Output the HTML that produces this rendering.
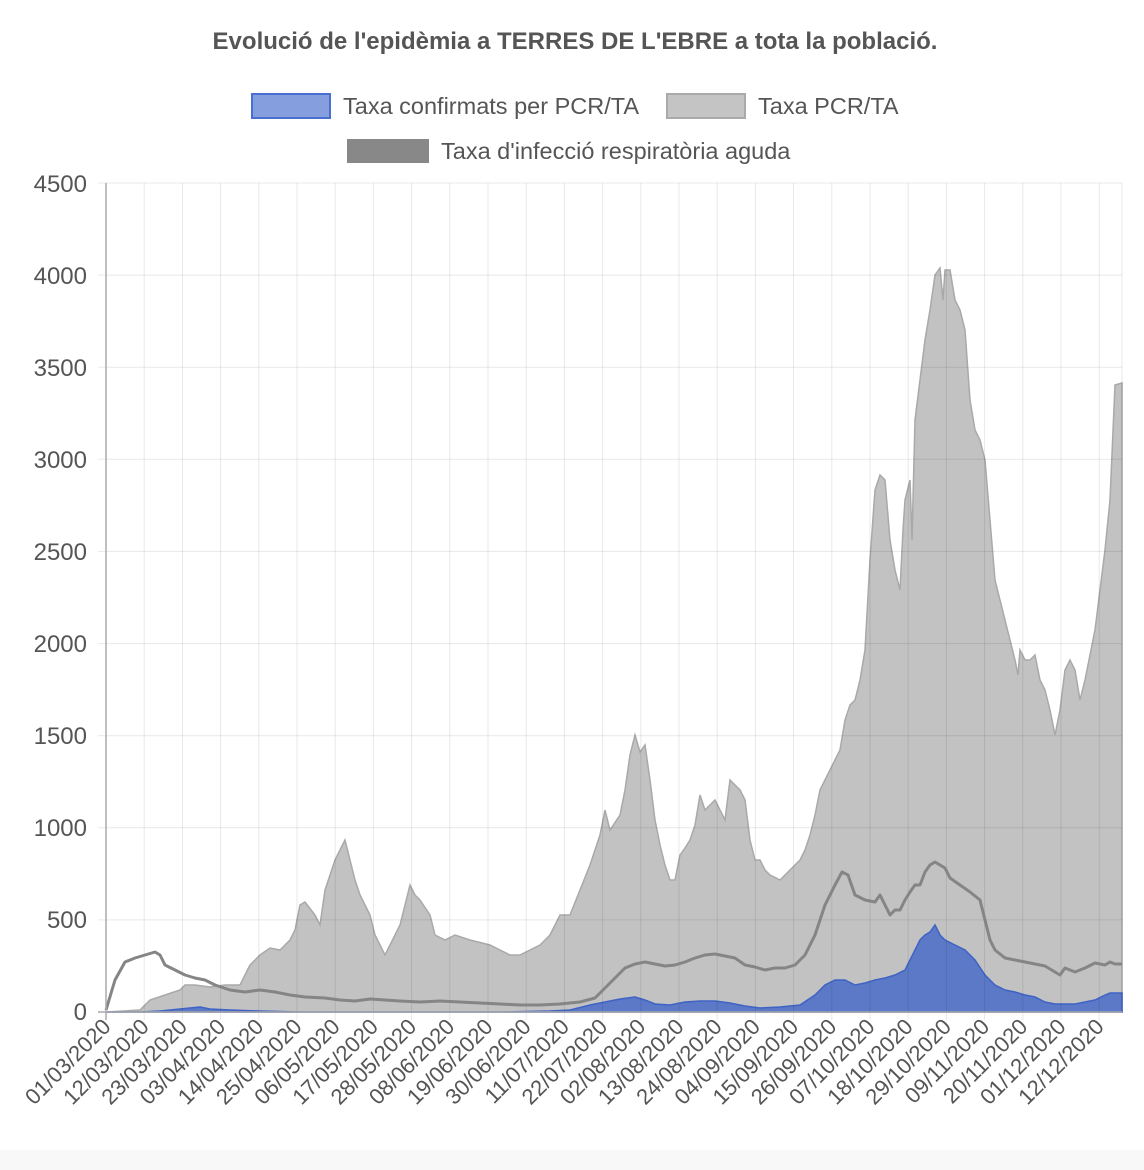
<!DOCTYPE html>
<html><head><meta charset="utf-8"><style>
html,body{margin:0;padding:0;background:#fff;}
svg{display:block;font-family:"Liberation Sans",Arial,sans-serif;}
</style></head><body>
<svg width="1144" height="1170" viewBox="0 0 1144 1170" xmlns="http://www.w3.org/2000/svg">
<rect x="0" y="1150" width="1144" height="20" fill="#f8f8f8"/>
<text x="575" y="49" text-anchor="middle" font-size="24" font-weight="bold" fill="#555">Evolució de l'epidèmia a TERRES DE L'EBRE a tota la població.</text>
<rect x="252" y="94" width="78" height="24" fill="#859fde" stroke="#4a6fd0" stroke-width="2"/>
<text x="343" y="114" font-size="23.5" fill="#555">Taxa confirmats per PCR/TA</text>
<rect x="667" y="94" width="78" height="24" fill="#c4c4c4" stroke="#aaa" stroke-width="2"/>
<text x="758" y="114" font-size="23.5" fill="#555">Taxa PCR/TA</text>
<rect x="347" y="139" width="82" height="24" fill="#888"/>
<text x="441" y="159" font-size="23.5" fill="#555">Taxa d'infecció respiratòria aguda</text>

<path fill="#c2c2c2" stroke="#a9a9a9" stroke-width="1.5" d="M106,1012 L140,1010 L150,1000 L165,995 L180,990 L185,985 L195,985 L210,987 L225,985 L240,985 L250,965 L260,955 L270,948 L280,950 L290,940 L295,930 L300,905 L305,902 L315,915 L320,925 L325,890 L335,860 L340,850 L345,840 L350,860 L355,880 L360,895 L365,905 L370,915 L375,935 L380,945 L385,955 L390,945 L395,935 L400,925 L405,905 L410,885 L415,895 L420,900 L430,915 L435,935 L445,940 L455,935 L470,940 L490,945 L500,950 L510,955 L520,955 L530,950 L540,945 L550,935 L555,925 L560,915 L570,915 L580,890 L590,865 L600,835 L605,810 L610,830 L620,815 L625,790 L630,755 L635,735 L640,752 L645,745 L650,780 L655,820 L660,845 L665,865 L670,880 L675,880 L680,855 L685,848 L690,840 L695,825 L700,795 L705,810 L710,805 L715,800 L720,810 L725,820 L730,780 L735,785 L740,790 L745,800 L750,840 L755,860 L760,860 L765,870 L770,875 L780,880 L790,870 L800,860 L805,850 L810,835 L815,815 L820,790 L825,780 L830,770 L835,760 L840,750 L845,720 L850,705 L855,700 L860,680 L865,650 L870,560 L875,490 L880,475 L885,480 L890,540 L895,570 L900,590 L903,530 L905,500 L910,480 L912,540 L915,420 L920,380 L925,340 L930,310 L935,275 L940,268 L943,300 L945,270 L950,270 L955,300 L960,310 L965,330 L970,400 L975,430 L980,440 L985,460 L990,520 L995,580 L1000,600 L1005,620 L1010,640 L1015,660 L1018,675 L1020,650 L1025,660 L1030,660 L1035,655 L1040,680 L1045,690 L1050,710 L1055,735 L1060,710 L1065,670 L1070,660 L1075,670 L1080,700 L1085,680 L1090,655 L1095,630 L1100,590 L1105,550 L1110,500 L1115,385 L1122,383 L1122,1012 Z"/>
<path fill="#5b79c6" stroke="#3f63c4" stroke-width="1.5" d="M106,1012 L140,1012 L160,1011 L180,1009 L190,1008 L200,1007 L210,1009 L230,1010 L260,1011 L300,1012 L500,1012 L550,1011 L570,1010 L590,1005 L605,1002 L620,999 L635,997 L645,1000 L655,1004 L670,1005 L685,1002 L700,1001 L715,1001 L730,1003 L745,1006 L760,1008 L780,1007 L800,1005 L815,995 L825,985 L835,980 L845,980 L855,985 L865,983 L875,980 L885,978 L895,975 L905,970 L910,960 L915,950 L920,940 L925,935 L930,932 L935,925 L940,935 L945,940 L955,945 L965,950 L975,960 L985,975 L995,985 L1005,990 L1015,992 L1025,995 L1035,997 L1045,1002 L1055,1004 L1065,1004 L1075,1004 L1085,1002 L1095,1000 L1105,995 L1110,993 L1122,993 L1122,1012 Z"/>

<g stroke="rgba(0,0,0,0.09)" stroke-width="1">
<line x1="144.2" y1="183" x2="144.2" y2="1020"/><line x1="182.4" y1="183" x2="182.4" y2="1020"/><line x1="220.6" y1="183" x2="220.6" y2="1020"/><line x1="258.8" y1="183" x2="258.8" y2="1020"/><line x1="297" y1="183" x2="297" y2="1020"/><line x1="335.2" y1="183" x2="335.2" y2="1020"/><line x1="373.4" y1="183" x2="373.4" y2="1020"/><line x1="411.6" y1="183" x2="411.6" y2="1020"/><line x1="449.8" y1="183" x2="449.8" y2="1020"/><line x1="488" y1="183" x2="488" y2="1020"/><line x1="526.2" y1="183" x2="526.2" y2="1020"/><line x1="564.4" y1="183" x2="564.4" y2="1020"/><line x1="602.6" y1="183" x2="602.6" y2="1020"/><line x1="640.8" y1="183" x2="640.8" y2="1020"/><line x1="679" y1="183" x2="679" y2="1020"/><line x1="717.2" y1="183" x2="717.2" y2="1020"/><line x1="755.4" y1="183" x2="755.4" y2="1020"/><line x1="793.6" y1="183" x2="793.6" y2="1020"/><line x1="831.8" y1="183" x2="831.8" y2="1020"/><line x1="870" y1="183" x2="870" y2="1020"/><line x1="908.2" y1="183" x2="908.2" y2="1020"/><line x1="946.4" y1="183" x2="946.4" y2="1020"/><line x1="984.6" y1="183" x2="984.6" y2="1020"/><line x1="1022.8" y1="183" x2="1022.8" y2="1020"/><line x1="1061" y1="183" x2="1061" y2="1020"/><line x1="1099.2" y1="183" x2="1099.2" y2="1020"/><line x1="1122" y1="183" x2="1122" y2="1012"/>
<line x1="98" y1="919.9" x2="1122" y2="919.9"/><line x1="98" y1="827.8" x2="1122" y2="827.8"/><line x1="98" y1="735.7" x2="1122" y2="735.7"/><line x1="98" y1="643.6" x2="1122" y2="643.6"/><line x1="98" y1="551.4" x2="1122" y2="551.4"/><line x1="98" y1="459.3" x2="1122" y2="459.3"/><line x1="98" y1="367.2" x2="1122" y2="367.2"/><line x1="98" y1="275.1" x2="1122" y2="275.1"/><line x1="98" y1="183" x2="1122" y2="183"/>
</g>

<polyline fill="none" stroke="#858585" stroke-width="3" stroke-linejoin="round" points="106,1010 115,980 125,962 135,958 145,955 155,952 160,955 165,965 175,970 185,975 195,978 205,980 215,985 230,990 245,992 260,990 275,992 290,995 305,997 325,998 340,1000 355,1001 370,999 385,1000 400,1001 420,1002 440,1001 460,1002 480,1003 500,1004 520,1005 540,1005 560,1004 580,1002 595,998 605,988 615,978 625,968 635,964 645,962 655,964 665,966 675,965 685,962 695,958 705,955 715,954 725,956 735,958 745,965 755,967 765,970 775,968 785,968 795,965 805,955 815,935 825,905 835,885 842,872 848,875 855,895 865,900 875,902 880,895 885,905 890,915 895,910 900,910 905,900 910,892 915,885 920,885 925,872 930,865 935,862 940,865 945,868 950,878 960,885 970,892 980,900 985,920 990,940 995,950 1005,958 1015,960 1025,962 1035,964 1045,966 1055,972 1060,975 1065,968 1075,972 1085,968 1095,963 1105,965 1110,962 1115,964 1122,964"/>
<line x1="106" y1="183" x2="106" y2="1020" stroke="#aaa" stroke-width="1.5"/>
<line x1="98" y1="1012" x2="1122" y2="1012" stroke="#aaa" stroke-width="1.5"/>

<g font-size="24" fill="#555" text-anchor="end">
<text x="87" y="1020">0</text><text x="87" y="928">500</text><text x="87" y="836">1000</text><text x="87" y="744">1500</text><text x="87" y="652">2000</text><text x="87" y="560">2500</text><text x="87" y="468">3000</text><text x="87" y="376">3500</text><text x="87" y="284">4000</text><text x="87" y="192">4500</text>
</g>
<g font-size="22" fill="#555" text-anchor="end">
<text transform="translate(112,1028) rotate(-45)">01/03/2020</text>
<text transform="translate(150.2,1028) rotate(-45)">12/03/2020</text>
<text transform="translate(188.4,1028) rotate(-45)">23/03/2020</text>
<text transform="translate(226.6,1028) rotate(-45)">03/04/2020</text>
<text transform="translate(264.8,1028) rotate(-45)">14/04/2020</text>
<text transform="translate(303,1028) rotate(-45)">25/04/2020</text>
<text transform="translate(341.2,1028) rotate(-45)">06/05/2020</text>
<text transform="translate(379.4,1028) rotate(-45)">17/05/2020</text>
<text transform="translate(417.6,1028) rotate(-45)">28/05/2020</text>
<text transform="translate(455.8,1028) rotate(-45)">08/06/2020</text>
<text transform="translate(494,1028) rotate(-45)">19/06/2020</text>
<text transform="translate(532.2,1028) rotate(-45)">30/06/2020</text>
<text transform="translate(570.4,1028) rotate(-45)">11/07/2020</text>
<text transform="translate(608.6,1028) rotate(-45)">22/07/2020</text>
<text transform="translate(646.8,1028) rotate(-45)">02/08/2020</text>
<text transform="translate(685,1028) rotate(-45)">13/08/2020</text>
<text transform="translate(723.2,1028) rotate(-45)">24/08/2020</text>
<text transform="translate(761.4,1028) rotate(-45)">04/09/2020</text>
<text transform="translate(799.6,1028) rotate(-45)">15/09/2020</text>
<text transform="translate(837.8,1028) rotate(-45)">26/09/2020</text>
<text transform="translate(876,1028) rotate(-45)">07/10/2020</text>
<text transform="translate(914.2,1028) rotate(-45)">18/10/2020</text>
<text transform="translate(952.4,1028) rotate(-45)">29/10/2020</text>
<text transform="translate(990.6,1028) rotate(-45)">09/11/2020</text>
<text transform="translate(1028.8,1028) rotate(-45)">20/11/2020</text>
<text transform="translate(1067,1028) rotate(-45)">01/12/2020</text>
<text transform="translate(1105.2,1028) rotate(-45)">12/12/2020</text>
</g>
</svg>
</body></html>
